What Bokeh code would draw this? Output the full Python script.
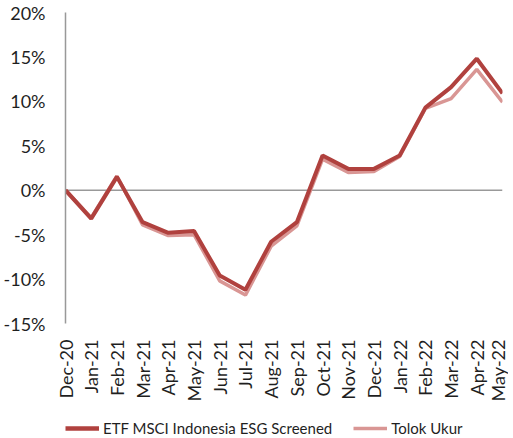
import math
from bokeh.plotting import figure
from bokeh.layouts import column
from bokeh.models import (Range1d, FixedTicker, PrintfTickFormatter, Span,
                          Legend, LegendItem)
from bokeh.embed import file_html
from bokeh.resources import INLINE

months = ["Dec-20", "Jan-21", "Feb-21", "Mar-21", "Apr-21", "May-21", "Jun-21",
          "Jul-21", "Aug-21", "Sep-21", "Oct-21", "Nov-21", "Dec-21", "Jan-22",
          "Feb-22", "Mar-22", "Apr-22", "May-22"]
etf = [0.0, -3.2, 1.5, -3.6, -4.8, -4.6, -9.6, -11.2, -5.8, -3.6, 3.9, 2.4,
       2.4, 3.9, 9.3, 11.6, 14.8, 10.9]
benchmark = [0.0, -3.1, 1.6, -3.9, -5.1, -5.0, -10.2, -11.8, -6.3, -4.0, 3.5,
             2.0, 2.1, 3.8, 9.2, 10.3, 13.6, 9.9]
y_ticks = [-15, -10, -5, 0, 5, 10, 15, 20]
series_names = ["ETF MSCI Indonesia ESG Screened", "Tolok Ukur"]

FONT = "Lato"
TXT = "#1f1f1f"
AX = "#999999"
C_ETF = "#B0413E"
C_BM = "#D99694"

x = list(range(len(months)))

p = figure(frame_width=437, frame_height=311, output_backend="svg",
           toolbar_location=None,
           x_range=Range1d(0, len(months) - 1), y_range=Range1d(-15, 20),
           min_border_left=62, min_border_right=6, min_border_top=12,
           min_border_bottom=0)
p.outline_line_color = None
p.xgrid.visible = False
p.ygrid.visible = False

# zero line
p.add_layout(Span(location=0, dimension="width", line_color=AX,
                  line_width=1.5, level="underlay"))

p.line(x, benchmark, line_color=C_BM, line_width=3.5)
p.line(x, etf, line_color=C_ETF, line_width=4)

# y axis
p.yaxis.ticker = FixedTicker(ticks=y_ticks)
p.yaxis.formatter = PrintfTickFormatter(format="%d%%")
p.yaxis.axis_line_color = AX
p.yaxis.axis_line_width = 1.5
p.yaxis.major_tick_line_color = None
p.yaxis.minor_tick_line_color = None
p.yaxis.major_tick_out = 0
p.yaxis.major_label_standoff = 20
p.yaxis.major_label_text_font = FONT
p.yaxis.major_label_text_font_size = "18px"
p.yaxis.major_label_text_color = TXT

# x axis
p.xaxis.ticker = FixedTicker(ticks=x)
p.xaxis.major_label_overrides = {i: m for i, m in enumerate(months)}
p.xaxis.axis_line_color = None
p.xaxis.major_tick_line_color = None
p.xaxis.minor_tick_line_color = None
p.xaxis.major_tick_out = 0
p.xaxis.major_label_standoff = 16
p.xaxis.major_label_orientation = math.pi / 2
p.xaxis.major_label_text_font = FONT
p.xaxis.major_label_text_font_size = "18px"
p.xaxis.major_label_text_color = TXT

# legend strip below the chart (its lines sit outside its visible range)
lg = figure(width=505, height=33, output_backend="svg", toolbar_location=None,
            x_axis_location=None, y_axis_location=None,
            x_range=Range1d(0, len(months) - 1), y_range=Range1d(100, 101),
            min_border_left=0, min_border_right=0, min_border_top=0,
            min_border_bottom=0)
lg.outline_line_color = None
lg.xgrid.visible = False
lg.ygrid.visible = False
k1 = lg.line(x, etf, line_color=C_ETF, line_width=4.5)
k2 = lg.line(x, benchmark, line_color=C_BM, line_width=3.5)

legend = Legend(items=[LegendItem(label=series_names[0], renderers=[k1]),
                       LegendItem(label=series_names[1], renderers=[k2])],
                orientation="horizontal", location=(0, 0),
                border_line_color=None, background_fill_alpha=0,
                padding=0, margin=0, spacing=21, glyph_width=34,
                glyph_height=16, label_height=16, label_standoff=4,
                label_text_font=FONT, label_text_font_size="15px",
                label_text_color=TXT)
lg.add_layout(legend, "center")

layout = column(p, lg, spacing=0)
open("out.html", "w").write(file_html(layout, INLINE))
